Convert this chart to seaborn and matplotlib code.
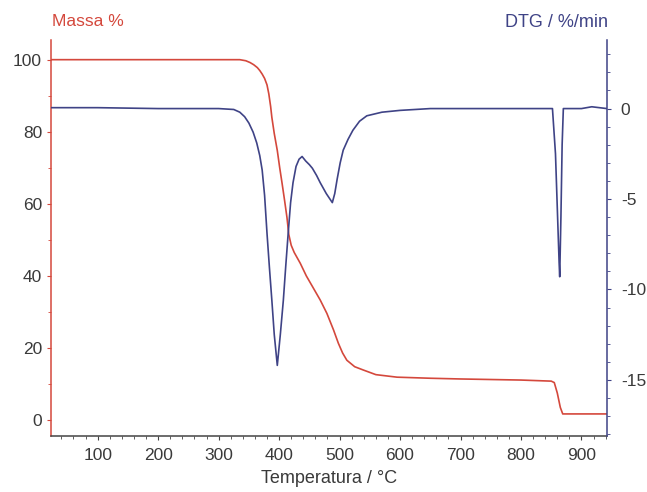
import matplotlib
matplotlib.use('Agg')
import seaborn as sns
import matplotlib.pyplot as plt
from matplotlib.ticker import MultipleLocator
import pandas as pd

# TG curve (mass %)
temp_mass = [23, 335, 345, 352, 358, 364, 368, 372, 376, 380, 383, 386, 388, 392, 397, 401, 405, 409,
             413, 416, 420, 425, 435, 445, 456, 468, 479, 490, 498, 505, 512, 525,
             539, 560, 595, 650, 700, 800, 850, 855, 860, 865, 869, 942]
massa = [100, 100, 99.7, 99.2, 98.6, 97.8, 97.0, 96.0, 94.8, 93.0, 90.5, 87.0, 84, 79.5, 74.8, 70, 65.6, 61,
         56.2, 51.5, 48.5, 46.5, 43.5, 40, 36.8, 33.3, 29.6, 25, 21.3, 18.6, 16.6, 14.8,
         13.9, 12.6, 11.9, 11.6, 11.4, 11.1, 10.8, 10.4, 7.5, 3.5, 1.7, 1.7]

# DTG curve (%/min)
temp_dtg = [23, 100, 200, 300, 325, 335, 343, 350, 357, 363, 368, 372, 376, 380, 384, 388, 392,
            397, 402, 407, 411, 415, 419, 423, 428, 433, 438, 444, 450, 455, 462, 468,
            478, 488, 492, 496, 501, 506, 514, 522, 533, 545, 570, 600, 650, 750, 845,
            852, 855, 857, 860, 863, 864, 866, 868, 870, 900, 917, 942]
dtg = [0.05, 0.05, 0.0, 0.0, -0.05, -0.2, -0.45, -0.8, -1.3, -1.9, -2.6, -3.4, -4.8, -6.9, -8.8, -10.6, -12.5,
       -14.2, -12.5, -10.6, -8.7, -6.9, -5.2, -4.1, -3.2, -2.8, -2.65, -2.9, -3.1, -3.3, -3.7, -4.1,
       -4.7, -5.2, -4.7, -3.9, -3.0, -2.3, -1.7, -1.2, -0.7, -0.4, -0.2, -0.1, 0.0, 0.0, 0.0,
       0.0, -1.5, -2.5, -5.5, -8.5, -9.3, -6.0, -2.0, 0.0, 0.0, 0.1, 0.0]

red = '#d4483c'
blue = '#3f4386'
grey = '#3a3a3a'

sns.set_style('ticks')
plt.rcParams['font.family'] = ['Liberation Sans', 'DejaVu Sans']
plt.rcParams['axes.unicode_minus'] = False

fig = plt.figure(figsize=(6.47, 4.92), dpi=100)
ax = fig.add_axes([0.079, 0.114, 0.859, 0.805])
ax2 = ax.twinx()

sns.lineplot(data=pd.DataFrame({'T': temp_mass, 'm': massa}), x='T', y='m',
             ax=ax, color=red, lw=1.2, sort=False)
sns.lineplot(data=pd.DataFrame({'T': temp_dtg, 'd': dtg}), x='T', y='d',
             ax=ax2, color=blue, lw=1.2, sort=False)

ax.set_xlim(23, 942)
ax.set_ylim(-4.4, 105.5)
ax2.set_ylim(-18.1, 3.8)

ax.xaxis.set_major_locator(MultipleLocator(100))
ax.xaxis.set_minor_locator(MultipleLocator(20))
ax.yaxis.set_major_locator(MultipleLocator(20))
ax.yaxis.set_minor_locator(MultipleLocator(10))
ax2.yaxis.set_major_locator(MultipleLocator(5))
ax2.yaxis.set_minor_locator(MultipleLocator(1))

for a in (ax, ax2):
    a.spines['top'].set_visible(False)
    a.set_xlabel('')
    a.set_ylabel('')
ax.spines['right'].set_visible(False)
ax2.spines['left'].set_visible(False)
ax2.spines['bottom'].set_visible(False)
ax.spines['left'].set_color(red)
ax2.spines['right'].set_color(blue)
ax.spines['bottom'].set_color('#444444')
for s in ('left', 'bottom'):
    ax.spines[s].set_linewidth(1.1)
ax2.spines['right'].set_linewidth(1.1)

ax.tick_params(axis='y', which='major', length=3, color=red, labelcolor=grey, labelsize=12.5)
ax.tick_params(axis='y', which='minor', length=2, color=red)
ax.tick_params(axis='x', which='major', length=3, color='#444444', labelcolor=grey, labelsize=12.5, pad=6)
ax.tick_params(axis='x', which='minor', length=2, color='#444444')
ax2.tick_params(axis='y', which='major', length=3, color=blue, labelcolor=grey, labelsize=12.5, pad=7)
ax2.tick_params(axis='y', which='minor', length=2, color=blue)

fig.text(0.081, 0.957, 'Massa %', color=red, fontsize=12.5, ha='left', va='center')
fig.text(0.94, 0.955, 'DTG / %/min', color=blue, fontsize=13, ha='right', va='center')
ax.set_xlabel('Temperatura / °C', color=grey, fontsize=13, labelpad=5)

fig.savefig('out.png', dpi=100)
